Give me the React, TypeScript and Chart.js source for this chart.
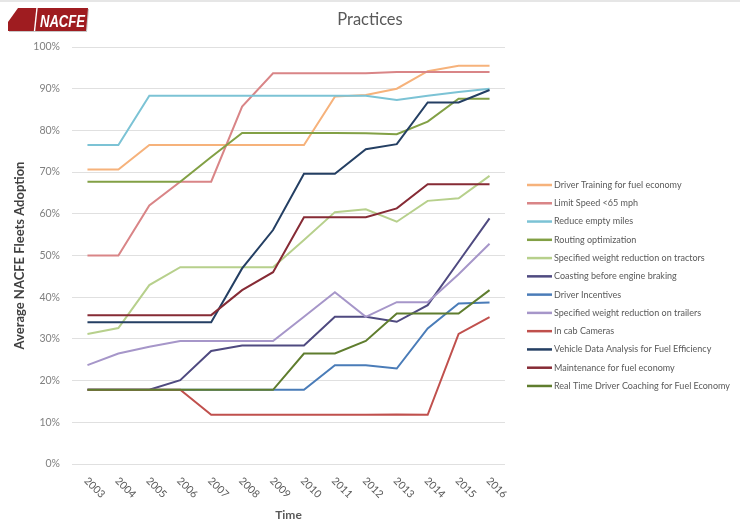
import { useEffect, useRef } from "react";
import { Chart, registerables } from "chart.js";

Chart.register(...registerables);

const YEARS = ["2003", "2004", "2005", "2006", "2007", "2008", "2009", "2010", "2011", "2012", "2013", "2014", "2015", "2016"];

const LABELS = [
  "Driver Training for fuel economy",
  "Limit Speed <65 mph",
  "Reduce empty miles",
  "Routing optimization",
  "Specified weight reduction on tractors",
  "Coasting before engine braking",
  "Driver Incentives",
  "Specified weight reduction on trailers",
  "In cab Cameras",
  "Vehicle Data Analysis for Fuel Efficiency",
  "Maintenance for fuel economy",
  "Real Time Driver Coaching for Fuel Economy",
];

const COLORS = [
  "#F6B27B",
  "#D98587",
  "#7CC3D5",
  "#82A045",
  "#B7D08C",
  "#4F4A80",
  "#4A7CB8",
  "#A696C9",
  "#C0504D",
  "#243F63",
  "#862B35",
  "#5F7D2E",
];

const driverTraining = [70.6, 70.6, 76.5, 76.5, 76.5, 76.5, 76.5, 76.5, 88.1, 88.5, 90.0, 94.2, 95.5, 95.5];
const limitSpeed = [50, 50, 62, 67.7, 67.7, 85.7, 93.7, 93.7, 93.7, 93.7, 94, 94, 94, 94];
const reduceEmpty = [76.5, 76.5, 88.3, 88.3, 88.3, 88.3, 88.3, 88.3, 88.3, 88.3, 87.3, 88.3, 89.2, 90];
const routing = [67.7, 67.7, 67.7, 67.7, 73.6, 79.4, 79.4, 79.4, 79.4, 79.3, 79.1, 82.1, 87.6, 87.6];
const tractors = [31.2, 32.6, 42.9, 47.2, 47.2, 47.2, 47.2, 53.7, 60.4, 61.1, 58.1, 63.1, 63.7, 69.1];
const coasting = [17.8, 17.8, 17.8, 20.1, 27.1, 28.4, 28.4, 28.4, 35.3, 35.3, 34.1, 38.1, 48.5, 58.9];
const incentives = [17.8, 17.8, 17.8, 17.8, 17.8, 17.8, 17.8, 17.8, 23.7, 23.7, 22.9, 32.5, 38.5, 38.7];
const trailers = [23.7, 26.5, 28.1, 29.5, 29.5, 29.5, 29.5, 35.3, 41.2, 35.3, 38.8, 38.8, 45.5, 52.8];
const cameras = [17.8, 17.8, 17.8, 17.8, 11.8, 11.8, 11.8, 11.8, 11.8, 11.8, 11.9, 11.8, 31.2, 35.2];
const vehicleData = [34, 34, 34, 34, 34, 46.9, 56.1, 69.6, 69.6, 75.5, 76.7, 86.7, 86.7, 89.7];
const maintenance = [35.7, 35.7, 35.7, 35.7, 35.7, 41.7, 46, 59.2, 59.2, 59.2, 61.3, 67.1, 67.1, 67.1];
const coaching = [17.8, 17.8, 17.8, 17.8, 17.8, 17.8, 17.8, 26.5, 26.5, 29.5, 36.1, 36.1, 36.1, 41.7];

const SERIES = [
  driverTraining,
  limitSpeed,
  reduceEmpty,
  routing,
  tractors,
  coasting,
  incentives,
  trailers,
  cameras,
  vehicleData,
  maintenance,
  coaching,
];

const FONT = "Lato, 'Open Sans', sans-serif";
const TITLE = "Practices";

// x labels slant down to the right, which chart.js can't do itself
const slantedTicks = {
  id: "slantedTicks",
  afterDraw(chart: Chart) {
    const { ctx, chartArea } = chart;
    const xScale = chart.scales.x;
    ctx.save();
    ctx.font = `10.5px ${FONT}`;
    ctx.fillStyle = "#595959";
    ctx.textAlign = "left";
    ctx.textBaseline = "middle";
    YEARS.forEach((label, i) => {
      const px = xScale.getPixelForValue(i);
      ctx.save();
      ctx.translate(px - 1.5, chartArea.bottom + 15);
      ctx.rotate(Math.PI / 4);
      ctx.fillText(label, 0, 0);
      ctx.restore();
    });
    ctx.restore();
  },
};

// legend and centred title: the right padding would squeeze/shift the built-in ones
const sideLegend = {
  id: "sideLegend",
  afterDraw(chart: Chart) {
    const { ctx } = chart;
    ctx.save();
    ctx.font = `16.5px ${FONT}`;
    ctx.fillStyle = "#595959";
    ctx.textAlign = "center";
    ctx.textBaseline = "middle";
    ctx.fillText(TITLE, chart.width / 2, 20);

    const left = chart.chartArea.right + 22;
    ctx.font = `9px ${FONT}`;
    ctx.textAlign = "left";
    chart.data.datasets.forEach((ds, i) => {
      const y = 185 + i * 18.27;
      ctx.strokeStyle = ds.borderColor as string;
      ctx.lineWidth = 2.5;
      ctx.beginPath();
      ctx.moveTo(left, y);
      ctx.lineTo(left + 25, y);
      ctx.stroke();
      ctx.fillStyle = "#595959";
      ctx.fillText(ds.label as string, left + 27, y);
    });
    ctx.restore();
  },
};

const PracticesChart = () => {
  const chartRef = useRef<HTMLCanvasElement>(null);
  const chartInstance = useRef<Chart | null>(null);

  useEffect(() => {
    if (!chartRef.current) return;
    if (chartInstance.current) chartInstance.current.destroy();

    chartInstance.current = new Chart(chartRef.current, {
      type: "line",
      data: {
        labels: YEARS,
        datasets: SERIES.map((values, i) => ({
          label: LABELS[i],
          data: values,
          borderColor: COLORS[i],
          backgroundColor: COLORS[i],
          borderWidth: 2,
          pointRadius: 0,
          tension: 0,
          order: SERIES.length - i,
        })),
      },
      options: {
        animation: false,
        responsive: true,
        maintainAspectRatio: false,
        layout: { padding: { left: 0, right: 235, top: 0, bottom: 0 } },
        font: { family: FONT },
        plugins: {
          legend: { display: false },
          tooltip: { enabled: false },
          // kept only to reserve the space; the text is drawn centred by sideLegend
          title: {
            display: true,
            text: TITLE,
            color: "rgba(0,0,0,0)",
            font: { family: FONT, size: 16.5, weight: "normal" },
            padding: { top: 10, bottom: 17.2 },
          },
        },
        scales: {
          x: {
            offset: true,
            grid: { display: false, drawTicks: false },
            border: { display: false },
            ticks: { display: false },
            title: {
              display: true,
              text: "Time",
              color: "#595959",
              font: { family: FONT, size: 12, weight: "bold" },
              padding: { top: 43.6, bottom: 10 },
            },
          },
          y: {
            min: 0,
            max: 100,
            afterFit: (scale) => {
              scale.width = 72;
            },
            grid: { color: "#E0E0E0", drawTicks: false },
            border: { display: false },
            ticks: {
              stepSize: 10,
              padding: 12,
              color: "#808080",
              font: { family: FONT, size: 10.5 },
              callback: (v) => `${v}%`,
            },
            title: {
              display: true,
              text: "Average NACFE Fleets Adoption",
              color: "#404040",
              font: { family: FONT, size: 13, weight: "bold" },
              padding: { top: 12.5, bottom: 0 },
            },
          },
        },
      },
      plugins: [slantedTicks, sideLegend],
    });

    return () => {
      if (chartInstance.current) {
        chartInstance.current.destroy();
        chartInstance.current = null;
      }
    };
  }, []);

  return (
    <div style={{ position: "relative", width: 740, height: 532, background: "#fff" }}>
      <canvas ref={chartRef} />
      <svg width={84} height={28} style={{ position: "absolute", left: 7, top: 6 }}>
        <polygon points="2,26 2,17 12,3 82,3 80,26" fill="#C8C8C8" />
        <polygon points="1,25 1,16 11,2 81,2 79,25" fill="#9F1C20" />
        <line x1={30} y1={2} x2={27.5} y2={25} stroke="#fff" strokeWidth={1.4} />
        <text
          x={33}
          y={20.5}
          fill="#fff"
          fontFamily="'Liberation Sans', Arial, sans-serif"
          fontWeight="bold"
          fontStyle="italic"
          fontSize={16}
          textLength={45}
          lengthAdjust="spacingAndGlyphs"
        >
          NACFE
        </text>
      </svg>
      <div
        style={{
          position: "absolute",
          inset: 0,
          borderTop: "2px solid #E6E6E6",
          pointerEvents: "none",
        }}
      />
    </div>
  );
};

export default function App() {
  return (
    <>
      <style>{"body{margin:0}"}</style>
      <PracticesChart />
    </>
  );
}
